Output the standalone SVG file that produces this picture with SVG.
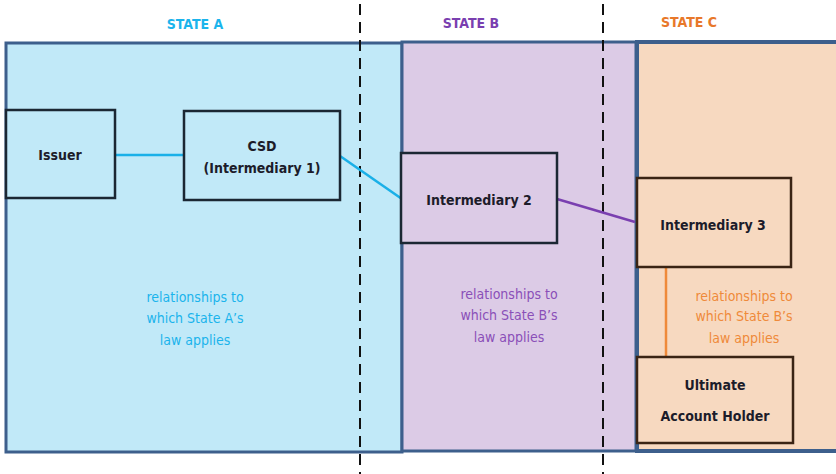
<svg xmlns="http://www.w3.org/2000/svg" width="836" height="474" viewBox="0 0 836 474">
<style>
.state{stroke:#3d5f8c;stroke-width:3}
.node rect{stroke:#1b2733;stroke-width:2.5}
.nt{font-family:"DejaVu Sans Condensed","DejaVu Sans",sans-serif;font-weight:bold;font-size:14px;fill:#1c1c2a;text-anchor:middle}
.hd{font-family:"DejaVu Sans Condensed","DejaVu Sans",sans-serif;font-weight:bold;font-size:14px;text-anchor:middle}
.lb{font-family:"DejaVu Sans Condensed","DejaVu Sans",sans-serif;font-size:14px;text-anchor:middle}
.dash{stroke:#111;stroke-width:2;stroke-dasharray:11 7}
</style>
<rect width="836" height="474" fill="#fff"/>
<g id="regions">
<rect class="state" x="6" y="43" width="396" height="409" fill="#c1e9f8"/>
<rect class="state" x="402" y="42" width="234" height="409" fill="#dccbe6"/>
<rect class="state" x="637" y="42" width="202" height="409" fill="#f7d9c0" style="stroke-width:4"/>
</g>
<g id="dividers">
<line class="dash" x1="360" y1="4" x2="360" y2="474"/>
<line class="dash" x1="603" y1="4" x2="603" y2="474"/>
</g>
<g id="headers">
<text class="hd" x="195" y="29" fill="#1bb4ec">STATE A</text>
<text class="hd" x="471" y="28" fill="#7a3fb0">STATE B</text>
<text class="hd" x="689" y="27" fill="#e8782a">STATE C</text>
</g>
<g id="connectors">
<line x1="115" y1="155" x2="184" y2="155" stroke="#1ab0e8" stroke-width="2.5"/>
<line x1="340" y1="156" x2="402" y2="199" stroke="#1ab0e8" stroke-width="2.5"/>
<line x1="557" y1="199" x2="635" y2="222" stroke="#7a3fb0" stroke-width="2.5"/>
<line x1="666" y1="267" x2="666" y2="357" stroke="#ef8a3a" stroke-width="2.5"/>
</g>
<g id="issuer" class="node">
<rect x="6" y="110" width="109" height="88" fill="#c1e9f8"/>
<text class="nt" x="60" y="160">Issuer</text>
</g>
<g id="csd" class="node">
<rect x="184" y="111" width="156" height="89" fill="#c1e9f8"/>
<text class="nt" x="262" y="151">CSD</text>
<text class="nt" x="262" y="173">(Intermediary 1)</text>
</g>
<g id="intermediary2" class="node">
<rect x="401" y="153" width="156" height="90" fill="#dccbe6"/>
<text class="nt" x="479" y="205">Intermediary 2</text>
</g>
<g id="intermediary3" class="node">
<rect x="637" y="178" width="154" height="89" fill="#f7d9c0" style="stroke:#3a2414"/>
<text class="nt" x="713" y="230">Intermediary 3</text>
</g>
<g id="holder" class="node">
<rect x="637" y="357" width="156" height="86" fill="#f7d9c0" style="stroke:#3a2414"/>
<text class="nt" x="715" y="390">Ultimate</text>
<text class="nt" x="715" y="421">Account Holder</text>
</g>
<g id="labels">
<text class="lb" fill="#1bb4ec"><tspan x="195" y="302">relationships to</tspan><tspan x="195" y="323">which State A’s</tspan><tspan x="195" y="345">law applies</tspan></text>
<text class="lb" fill="#8a4fb8"><tspan x="509" y="299">relationships to</tspan><tspan x="509" y="320">which State B’s</tspan><tspan x="509" y="342">law applies</tspan></text>
<text class="lb" fill="#ef8a3a"><tspan x="744" y="301">relationships to</tspan><tspan x="744" y="321">which State B’s</tspan><tspan x="744" y="343">law applies</tspan></text>
</g>
</svg>
